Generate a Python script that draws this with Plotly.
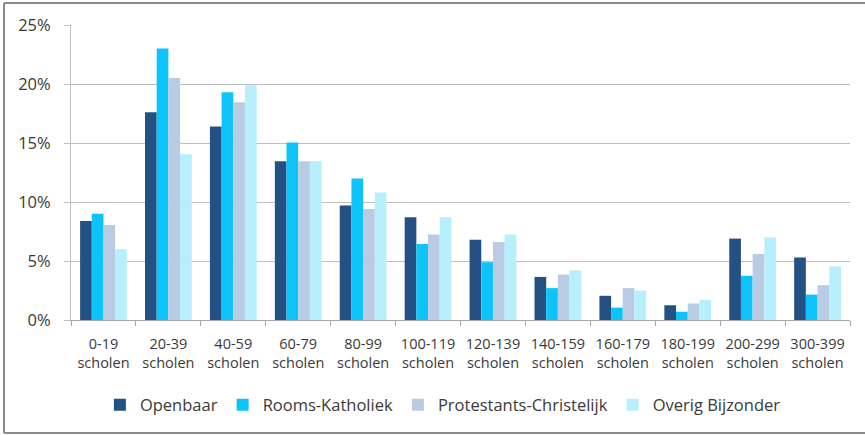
import plotly.graph_objects as go

categories = ["0-19<br>scholen", "20-39<br>scholen", "40-59<br>scholen", "60-79<br>scholen",
              "80-99<br>scholen", "100-119<br>scholen", "120-139<br>scholen", "140-159<br>scholen",
              "160-179<br>scholen", "180-199<br>scholen", "200-299<br>scholen", "300-399<br>scholen"]

openbaar = [8.4, 17.6, 16.4, 13.45, 9.7, 8.7, 6.8, 3.65, 2.05, 1.25, 6.9, 5.3]
rooms_katholiek = [9.0, 23.0, 19.3, 15.05, 12.0, 6.45, 4.9, 2.7, 1.05, 0.7, 3.75, 2.15]
protestants_christelijk = [8.05, 20.5, 18.45, 13.45, 9.4, 7.25, 6.6, 3.85, 2.7, 1.4, 5.6, 2.95]
overig_bijzonder = [6.0, 14.05, 19.9, 13.45, 10.8, 8.7, 7.25, 4.2, 2.5, 1.7, 7.0, 4.55]

series_names = ["Openbaar", "Rooms-Katholiek", "Protestants-Christelijk", "Overig Bijzonder"]
series_values = [openbaar, rooms_katholiek, protestants_christelijk, overig_bijzonder]
colors = ["#245184", "#0CC4FA", "#B9CCE4", "#B8EFFC"]

y_ticks = [0, 5, 10, 15, 20, 25]
y_tick_labels = ["0%", "5%", "10%", "15%", "20%", "25%"]

font_family = "Open Sans, Noto Sans, sans-serif"

fig = go.Figure()
for name, vals, col in zip(series_names, series_values, colors):
    fig.add_trace(go.Bar(x=categories, y=vals, name=name, marker_color=col,
                         marker_line_width=0))

L, R, T, B = 71, 15, 25, 115
PW, PH = 865 - L - R, 435 - T - B

def px_x(x):
    return (x - L) / PW

def px_y(y):
    return (T + PH - y) / PH

frame = dict(color="#8c8c8c", width=2)
shapes = [
    dict(type="line", xref="paper", yref="paper", x0=px_x(4), x1=px_x(870), y0=px_y(3), y1=px_y(3), line=frame),
    dict(type="line", xref="paper", yref="paper", x0=px_x(4), x1=px_x(4), y0=px_y(3), y1=px_y(433), line=frame),
    dict(type="line", xref="paper", yref="paper", x0=px_x(4), x1=px_x(870), y0=px_y(433), y1=px_y(433), line=frame),
]

fig.update_layout(
    width=865, height=435,
    margin=dict(l=L, r=R, t=T, b=B, autoexpand=False),
    paper_bgcolor="white", plot_bgcolor="white",
    barmode="group", bargap=0.28, bargroupgap=0,
    font=dict(family=font_family, color="#3a3a3a"),
    showlegend=True,
    legend=dict(orientation="h", xref="container", x=0.512, xanchor="center",
                yref="container", y=0.069, yanchor="middle",
                font=dict(size=16.5, color="#3a3a3a"), itemwidth=30,
                traceorder="normal", tracegroupgap=0),
    shapes=shapes,
)
fig.update_xaxes(
    type="category", showgrid=False, showline=True, linecolor="#a6a6a6", linewidth=1,
    ticks="outside", tickson="boundaries", ticklen=5, tickcolor="#a6a6a6",
    ticklabelstandoff=11, automargin=False, tickangle=0,
    tickfont=dict(size=14.5, color="#3a3a3a", family=font_family),
)
fig.update_yaxes(
    range=[0, 25], tickvals=y_ticks, ticktext=y_tick_labels,
    showgrid=True, gridcolor="#bfbfbf", gridwidth=1.3,
    showline=True, linecolor="#bfbfbf", linewidth=1,
    ticks="outside", ticklen=6, tickcolor="#bfbfbf",
    ticklabelstandoff=10, automargin=False,
    tickfont=dict(size=16.5, color="#3a3a3a", family=font_family),
    zeroline=False,
)

fig.write_html("out.html", config={"displayModeBar": False},
               post_script="document.body.style.margin='0px';")
